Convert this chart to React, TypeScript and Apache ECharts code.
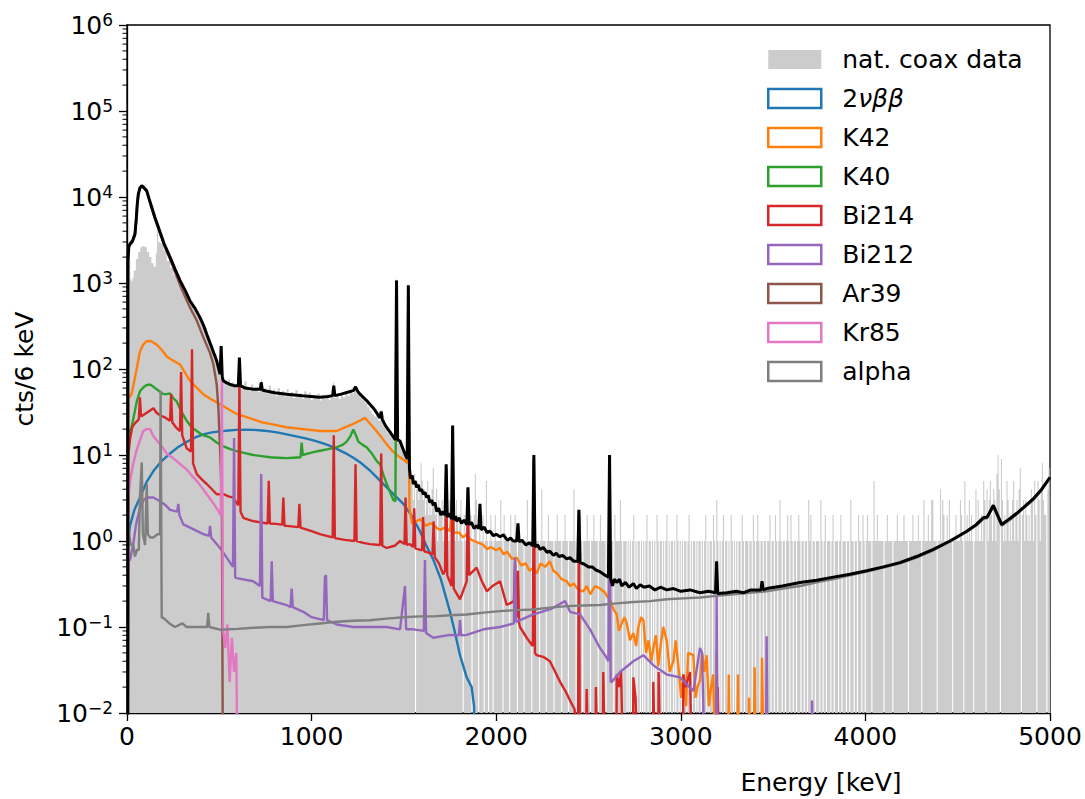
import React, { useEffect, useRef } from 'react';
import * as echarts from 'echarts';

const FONT = 'DejaVu Sans';
const ZERO = 0.001; // empty bin: below the axis minimum

const xTickValues = [0, 1000, 2000, 3000, 4000, 5000];
const yDecades = [-2, -1, 0, 1, 2, 3, 4, 5, 6];

const legendNames = ['nat. coax data', '2νββ', 'K42', 'K40', 'Bi214', 'Bi212', 'Ar39', 'Kr85', 'alpha'];
const legendColors = ['#cccccc', '#1f77b4', '#ff7f0e', '#2ca02c', '#d62728', '#9467bd', '#8c564b', '#e377c2', '#7f7f7f'];

// measured data histogram, 6 keV bins, [bin start keV, counts] below 2000 keV
const dataLow = [[0,0],[6,5600],[12,1800],[18,1100],[24,1050],[30,1150],[36,1400],[48,1900],[60,2300],[72,2600],[84,2700],[96,2600],[108,2300],[120,2000],[132,1700],[144,1550],[156,2200],[162,4100],[168,3000],[180,2900],[198,2400],[216,1800],[234,1500],[252,1250],[270,1100],[288,1000],[306,800],[324,680],[342,570],[360,480],[378,420],[396,365],[414,300],[432,240],[450,193],[468,150],[486,113],[498,90],[504,78],[510,180],[516,76],[522,72],[534,66],[546,75],[558,64],[570,70],[582,62],[594,68],[606,135],[612,64],[624,58],[636,72],[648,60],[660,55],[672,66],[684,57],[696,62],[708,54],[720,59],[726,75],[732,56],[744,60],[756,52],[768,64],[780,53],[792,58],[804,49],[816,60],[828,51],[840,56],[852,48],[864,58],[876,50],[888,54],[900,46],[912,57],[924,49],[936,52],[948,45],[960,55],[972,47],[984,53],[996,44],[1008,50],[1020,46],[1032,52],[1044,43],[1056,49],[1068,45],[1080,51],[1092,44],[1104,48],[1116,70],[1122,46],[1134,50],[1146,45],[1158,53],[1170,47],[1182,55],[1194,49],[1206,57],[1218,52],[1230,60],[1242,53],[1254,50],[1266,46],[1278,44],[1290,40],[1302,36],[1314,33],[1326,30],[1338,28],[1350,29],[1362,25],[1374,30],[1386,22],[1398,21],[1410,18],[1422,19],[1434,16],[1446,14],[1452,600],[1458,1100],[1464,14],[1476,13],[1488,11],[1500,10],[1512,9],[1518,500],[1524,950],[1530,6],[1542,5],[1548,3],[1554,6],[1560,0],[1566,4],[1572,5],[1578,3],[1584,4],[1590,8],[1596,5],[1602,3],[1608,4],[1614,2],[1620,3],[1626,5],[1632,2],[1638,3],[1644,2],[1650,4],[1656,7],[1662,3],[1668,2],[1674,4],[1680,1],[1686,3],[1692,2],[1698,2],[1704,3],[1710,1],[1716,2],[1722,3],[1728,7],[1734,2],[1740,1],[1746,3],[1752,2],[1758,18],[1764,22],[1770,2],[1776,1],[1782,3],[1788,2],[1794,1],[1800,2],[1806,3],[1812,1],[1818,0],[1824,2],[1830,1],[1836,2],[1842,4],[1848,3],[1854,1],[1860,2],[1866,0],[1872,1],[1878,2],[1884,6],[1890,3],[1896,1],[1902,0],[1908,2],[1914,1],[1920,1],[1926,2],[1932,0],[1938,1],[1944,5],[1950,1],[1956,0],[1962,1],[1968,2],[1974,1],[1980,0],[1986,1],[1992,2],[1998,1]];
// above 2000 keV: bins hold 1 count except these empty bins ...
const dataZeroBins = [2034,2070,2112,2148,2190,2232,2268,2310,2352,2388,2430,2466,2508,2550,2592,2634,2682,2706,2718,2730,2748,2760,2778,2790,2802,2820,2838,2850,2862,2880,2898,2910,2928,2940,2958,2970,2988,3000,3012,3030,3048,3060,3078,3090,3108,3120,3138,3150,3168,3186,3204,3216,3234,3252,3264,3282,3294,3306,3324,3342,3366,3384,3402,3426,3444,3462,3486,3504,3522,3546,3564,3588,3606,3624,3648,3666,3684,3708,3726,3750,3768,3786,3810,3828,3852,3870,3894,3912,3936,3954,3978,3996,4032,4098,4146,4230,4302,4386,4470,4530,4584,4650,4728,4842,4926,4980];
// ... and these bins with more than one count
const dataMultiBins = [[2022,3],[2040,2],[2076,2],[2100,2],[2166,3],[2208,2],[2244,4],[2280,2],[2328,2],[2370,2],[2418,4],[2454,2],[2490,2],[2526,2],[2562,2],[2604,3],[2616,2],[2640,2],[2670,3],[2742,2],[2814,2],[2868,2],[2922,2],[2976,2],[3042,2],[3132,2],[3174,2],[3192,3],[3228,2],[3270,2],[3330,2],[3390,2],[3414,2],[3480,2],[3510,2],[3534,3],[3576,2],[3594,2],[3636,2],[3690,3],[3702,2],[3756,3],[3780,2],[3822,2],[3864,2],[3918,3],[3960,2],[3984,2],[4008,2],[4044,5],[4062,2],[4116,2],[4170,2],[4206,2],[4254,2],[4284,2],[4314,3],[4338,2],[4356,3],[4362,3],[4404,4],[4416,3],[4422,2],[4440,2],[4452,3],[4488,2],[4512,3],[4518,2],[4536,5],[4548,2],[4560,3],[4572,2],[4596,4],[4608,3],[4626,2],[4638,5],[4644,3],[4656,4],[4668,3],[4674,5],[4680,2],[4692,4],[4698,3],[4710,6],[4716,10],[4722,4],[4734,9],[4740,3],[4752,2],[4764,5],[4770,3],[4782,2],[4794,3],[4800,5],[4812,2],[4818,3],[4830,4],[4836,7],[4848,2],[4854,3],[4866,3],[4872,2],[4884,2],[4896,4],[4902,3],[4914,5],[4920,2],[4932,5],[4938,3],[4950,4],[4956,8],[4962,3],[4968,2],[4974,2],[4986,4],[4992,7],[4998,8]];

// model components [keV, cts/6 keV]
const model2nbb = [[4,ZERO],[6,1.0],[16,1.5],[40,2.3],[70,3.2],[105,4.8],[143,6.5],[190,8.6],[233,10.4],[280,12.5],[323,14.2],[370,16],[413,17.4],[460,18.3],[504,18.8],[550,19.3],[594,19.6],[640,19.7],[684,19.6],[730,19.3],[775,18.8],[820,18.2],[865,17.4],[910,16.6],[955,15.8],[1000,15],[1046,14],[1090,13],[1136,11.8],[1180,10.6],[1226,9.3],[1270,8],[1316,6.6],[1360,5.3],[1407,4.2],[1450,3.4],[1497,2.7],[1540,2.0],[1587,1.3],[1620,0.9],[1660,0.6],[1700,0.36],[1750,0.15],[1780,0.08],[1804,0.047],[1840,0.026],[1867,0.02],[1880,0.012],[1890,ZERO]];
const modelK42 = [[4,ZERO],[6,45],[25,51],[53,102],[70,160],[88,192],[105,210],[125,212],[140,205],[161,192],[190,165],[215,140],[250,125],[287,113],[315,90],[341,73],[380,60],[413,51],[460,44],[504,39],[550,34],[594,30],[640,28],[684,26],[730,24],[775,23],[820,22],[865,21],[910,20.5],[955,20],[1000,19.5],[1045,19],[1090,19],[1136,19],[1180,21],[1226,23],[1260,25],[1289,27],[1310,24],[1334,21],[1370,17],[1407,13.3],[1440,11],[1479,9.4],[1506,8.6],[1518,8],[1524,900],[1530,2.4],[1545,1.6],[1569,1.7],[1587,1.8],[1620,1.5],[1640,1.6],[1659,1.56],[1680,1.4],[1700,1.35],[1725,1.45],[1750,1.3],[1764,2.8],[1770,1.25],[1800,1.25],[1820,1.1],[1840,1.2],[1860,1.05],[1880,1.0],[1905,0.95],[1931,0.9],[1950,0.8],[1970,0.85],[2000,0.78],[2021,0.83],[2040,0.7],[2060,0.75],[2085,0.62],[2111,0.64],[2135,0.52],[2160,0.55],[2180,0.45],[2201,0.49],[2220,0.42],[2240,0.55],[2265,0.5],[2291,0.58],[2310,0.45],[2330,0.42],[2355,0.36],[2382,0.34],[2400,0.3],[2420,0.32],[2445,0.27],[2472,0.26],[2490,0.3],[2510,0.24],[2535,0.3],[2562,0.28],[2590,0.25],[2605,0.22],[2617,0.21],[2635,0.16],[2653,0.14],[2665,0.09],[2680,0.11],[2695,0.13],[2707,0.11],[2725,0.07],[2743,0.085],[2758,0.06],[2770,0.1],[2785,0.13],[2797,0.12],[2812,0.05],[2825,0.07],[2840,0.04],[2851,0.057],[2865,0.08],[2878,0.035],[2890,0.06],[2905,0.1],[2924,0.069],[2940,0.03],[2960,0.04],[2972,0.07],[2990,0.03],[3002,0.015],[3014,0.028],[3028,0.012],[3040,0.05],[3068,0.047],[3080,0.015],[3090,0.02],[3104,0.024],[3116,0.05],[3128,0.03],[3140,0.047],[3152,0.012],[3164,0.02],[3176,0.028],[3186,ZERO],[3194,0.05],[3206,ZERO],[3254,ZERO],[3260,0.028],[3266,ZERO],[3304,ZERO],[3310,0.028],[3316,ZERO],[3364,ZERO],[3370,0.015],[3376,ZERO],[3394,ZERO],[3400,0.034],[3406,ZERO],[3434,ZERO],[3440,0.044],[3452,ZERO],[3500,ZERO]];
const modelK40 = [[4,ZERO],[6,17],[25,21],[53,42],[70,55],[88,61],[105,65],[125,66],[140,63],[161,58],[197,51],[215,51],[233,52],[250,46],[269,42],[295,32],[323,25],[350,21],[378,19],[410,17],[450,16],[486,14],[522,12.6],[560,11.7],[594,11.1],[640,10.5],[684,10],[730,9.7],[775,9.4],[820,9.3],[865,9.2],[900,9.3],[940,9.4],[946,13.9],[952,10],[973,10.3],[1010,10.8],[1045,11.2],[1090,11.7],[1136,12.3],[1170,13.2],[1190,14.3],[1210,16.5],[1226,19.8],[1240,17],[1253,14.3],[1275,13.2],[1298,12.3],[1325,10.5],[1353,8.5],[1371,7.8],[1390,5.8],[1407,4.6],[1425,3.7],[1443,3.0],[1454,2.9],[1460,1070]];
const modelBi214 = [[4,ZERO],[6,9.4],[16,15],[28,21],[40,23],[64,26],[70,47],[76,28],[107,31],[125,33],[143,35],[160,31],[179,29],[210,27],[233,25],[239,51],[245,24],[265,21],[287,19],[293,92],[299,17],[323,12],[347,11],[352,170],[358,8],[378,6.0],[405,5.2],[432,4.6],[460,4.0],[486,3.5],[522,3.5],[550,3.3],[576,3.2],[603,2.6],[609,73],[615,2.2],[630,1.86],[665,1.75],[684,1.7],[720,1.65],[762,1.6],[768,5],[774,1.6],[806,1.58],[841,1.55],[847,3.2],[853,1.5],[865,1.5],[928,1.45],[934,2.7],[940,1.43],[1000,1.3],[1045,1.2],[1114,1.1],[1120,17],[1126,1.08],[1180,1.03],[1232,1.0],[1238,7.8],[1244,1.0],[1280,0.95],[1316,0.92],[1371,0.9],[1377,10.4],[1383,0.88],[1407,0.83],[1450,0.88],[1479,1.0],[1503,0.92],[1509,3.2],[1515,0.9],[1533,0.92],[1550,0.85],[1556,2.4],[1562,0.82],[1580,0.8],[1598,0.78],[1604,1.9],[1610,0.76],[1620,0.75],[1655,0.7],[1661,1.7],[1667,0.65],[1690,0.55],[1713,0.41],[1723,0.45],[1729,7],[1735,0.4],[1758,0.3],[1764,20],[1770,0.28],[1804,0.21],[1820,0.26],[1840,0.34],[1847,4],[1853,0.4],[1894,0.49],[1920,0.35],[1949,0.26],[1980,0.3],[2021,0.34],[2057,0.18],[2096,0.2],[2102,0.58],[2108,0.15],[2113,0.13],[2118,0.45],[2124,0.11],[2129,0.1],[2165,0.075],[2198,0.06],[2204,9],[2210,0.05],[2219,0.047],[2255,0.045],[2291,0.04],[2320,0.03],[2346,0.023],[2375,0.018],[2400,0.014],[2425,0.011],[2436,ZERO],[2442,ZERO],[2448,2.2],[2454,ZERO],[2484,ZERO],[2490,0.019],[2502,ZERO],[2536,ZERO],[2540,0.02],[2552,ZERO],[2576,ZERO],[2580,0.03],[2592,ZERO],[2650,ZERO],[2653,0.028],[2665,0.02],[2677,0.03],[2690,ZERO],[2740,ZERO],[2743,0.026],[2755,0.015],[2770,ZERO],[2848,ZERO],[2851,0.023],[2863,ZERO],[2877,ZERO],[2880,0.03],[2892,ZERO],[3010,ZERO],[3014,0.028],[3026,0.02],[3050,0.03],[3062,ZERO],[3196,ZERO],[3200,0.02],[3210,ZERO]];
const modelBi212 = [[4,ZERO],[6,0.58],[16,0.6],[34,0.92],[50,1.6],[70,2.4],[90,3.0],[107,3.2],[143,3.2],[179,2.9],[210,2.6],[233,2.3],[272,2.2],[278,2.7],[284,2.0],[305,1.56],[350,1.4],[413,1.2],[444,1.15],[450,1.5],[456,1.1],[504,0.83],[540,0.64],[574,0.5],[580,15.8],[586,0.38],[594,0.37],[684,0.34],[720,0.3],[727,6.0],[733,0.22],[778,0.2],[784,0.58],[790,0.2],[865,0.18],[886,0.17],[892,0.28],[898,0.17],[955,0.15],[1000,0.13],[1066,0.12],[1072,0.38],[1078,0.4],[1084,0.12],[1136,0.107],[1226,0.1],[1407,0.1],[1479,0.094],[1506,0.3],[1512,0.094],[1551,0.094],[1608,0.09],[1614,0.6],[1620,0.085],[1659,0.075],[1750,0.081],[1798,0.08],[1804,0.12],[1810,0.08],[1840,0.081],[1931,0.094],[2021,0.1],[2096,0.11],[2102,0.64],[2108,0.115],[2201,0.14],[2291,0.16],[2373,0.2],[2400,0.15],[2454,0.14],[2508,0.094],[2562,0.057],[2590,0.047],[2608,0.04],[2614,10],[2620,0.023],[2626,0.023],[2671,0.03],[2743,0.04],[2797,0.047],[2851,0.036],[2924,0.028],[2996,0.026],[3068,0.018],[3104,0.057],[3115,0.05],[3122,0.0125],[3130,ZERO],[3190,ZERO],[3194,0.24],[3200,ZERO],[3460,ZERO],[3465,0.078],[3471,ZERO],[3706,ZERO],[3711,0.014],[3717,ZERO]];
const modelAr39 = [[4,ZERO],[5,1700],[10,2600],[16,2750],[30,3000],[43,3600],[50,5400],[55,7800],[61,10500],[70,12600],[80,13300],[90,12800],[107,11600],[120,9300],[134,7400],[150,5700],[170,4300],[200,2800],[233,1900],[260,1350],[287,950],[310,732],[341,520],[378,365],[414,232],[450,153],[468,113],[486,66],[495,35],[505,11],[514,2.7],[520,ZERO]];
const modelKr85 = [[4,ZERO],[6,3.2],[20,5.5],[33,7.8],[50,11],[70,14.8],[88,19],[105,20],[125,20],[140,17],[161,14.8],[190,12.5],[215,10.4],[240,9.5],[269,8.5],[295,7.6],[323,6.8],[350,5.8],[378,5.0],[405,4.2],[432,3.5],[460,2.9],[486,2.4],[508,2.0],[514,75],[520,0.094],[532,0.057],[544,0.107],[556,0.023],[568,0.075],[580,0.03],[592,0.05],[600,ZERO]];
const modelAlpha = [[4,ZERO],[6,1.5],[20,0.9],[34,0.9],[43,0.66],[55,0.8],[64,0.78],[70,3.2],[80,8.2],[86,1.2],[98,0.9],[107,4.6],[113,1.2],[125,1.1],[143,1.1],[165,1.2],[179,1.2],[182,56],[188,0.128],[197,0.128],[230,0.11],[260,0.1],[300,0.11],[323,0.1],[380,0.1],[434,0.1],[440,0.146],[446,0.1],[504,0.093],[600,0.095],[684,0.098],[775,0.1],[865,0.1],[955,0.105],[1045,0.11],[1136,0.115],[1226,0.118],[1316,0.12],[1407,0.125],[1497,0.13],[1587,0.133],[1659,0.133],[1750,0.137],[1840,0.14],[1931,0.147],[2021,0.153],[2111,0.157],[2201,0.16],[2291,0.168],[2382,0.175],[2472,0.178],[2562,0.18],[2652,0.188],[2743,0.195],[2834,0.2],[2924,0.21],[3014,0.215],[3104,0.22],[3194,0.23],[3284,0.24],[3375,0.25],[3465,0.26],[3555,0.28],[3646,0.3],[3736,0.33],[3826,0.36],[3916,0.4],[4007,0.44],[4097,0.49],[4187,0.55],[4277,0.64],[4368,0.78],[4458,0.98],[4549,1.28],[4600,1.5],[4638,1.8],[4660,1.85],[4693,2.5],[4738,1.5],[4780,1.75],[4820,2.05],[4865,2.5],[4910,3.0],[4955,3.9],[5000,5.4]];
const modelTotal = [[4,ZERO],[5,1800],[10,2700],[16,2840],[30,3100],[43,3700],[50,5500],[55,8000],[61,10700],[70,12800],[80,13500],[90,13000],[107,11800],[120,9500],[134,7600],[150,5900],[170,4450],[200,2900],[233,2000],[260,1450],[287,1070],[315,820],[341,622],[370,500],[395,398],[415,320],[432,254],[460,175],[486,124],[504,87],[510,185],[516,80],[522,73],[540,69],[560,66],[580,64],[603,64],[609,136],[615,64],[640,60],[684,58],[722,58],[727,70],[733,57],[760,55],[800,53],[865,51],[950,49],[1045,47],[1090,48],[1114,49],[1120,64],[1126,49],[1160,51],[1200,54],[1226,56],[1238,62],[1250,55],[1262,51],[1298,43],[1335,35],[1371,27],[1377,32],[1383,26],[1400,22],[1434,17.4],[1454,15],[1460,1070],[1466,15],[1479,14.5],[1506,10.2],[1518,9],[1524,940],[1530,7],[1536,5.3],[1545,5.8],[1551,4.6],[1560,5.0],[1569,4.2],[1578,4.5],[1587,3.8],[1596,4.0],[1605,3.5],[1614,3.7],[1623,3.2],[1632,3.4],[1641,2.8],[1650,3.0],[1659,2.6],[1668,2.8],[1678,2.2],[1689,2.4],[1700,2.0],[1711,2.2],[1723,2.0],[1729,7.8],[1735,1.9],[1746,2.1],[1758,1.8],[1764,22],[1770,1.75],[1779,1.95],[1786,1.7],[1800,1.85],[1812,1.6],[1826,1.75],[1841,1.55],[1847,4.2],[1853,1.55],[1866,1.65],[1880,1.4],[1893,1.5],[1906,1.4],[1912,2.7],[1918,1.35],[1935,1.45],[1950,1.25],[1966,1.3],[1985,1.15],[2000,1.2],[2021,1.12],[2040,1.18],[2060,1.02],[2078,1.08],[2093,1.0],[2111,1.0],[2118,1.6],[2124,0.98],[2140,1.02],[2160,0.9],[2180,0.95],[2198,0.88],[2204,10],[2210,0.86],[2225,0.9],[2237,0.8],[2255,0.84],[2275,0.74],[2291,0.76],[2310,0.68],[2325,0.72],[2340,0.66],[2360,0.68],[2382,0.62],[2400,0.64],[2420,0.58],[2442,0.58],[2448,2.3],[2454,0.56],[2475,0.54],[2500,0.5],[2520,0.5],[2540,0.46],[2562,0.44],[2576,0.42],[2590,0.4],[2608,0.38],[2614,10],[2620,0.36],[2630,0.3],[2640,0.36],[2653,0.33],[2668,0.36],[2680,0.3],[2700,0.33],[2720,0.29],[2743,0.32],[2760,0.28],[2780,0.31],[2800,0.29],[2830,0.3],[2860,0.27],[2890,0.29],[2924,0.27],[2960,0.28],[3000,0.26],[3050,0.27],[3104,0.25],[3150,0.26],[3188,0.25],[3194,0.58],[3200,0.245],[3250,0.25],[3300,0.26],[3339,0.25],[3380,0.27],[3434,0.27],[3440,0.34],[3446,0.27],[3465,0.28],[3550,0.3],[3646,0.33],[3736,0.35],[3826,0.38],[3916,0.41],[4007,0.45],[4097,0.5],[4187,0.56],[4277,0.66],[4368,0.8],[4458,1.0],[4549,1.3],[4600,1.55],[4638,1.86],[4660,1.9],[4693,2.6],[4738,1.56],[4780,1.8],[4820,2.1],[4865,2.55],[4910,3.1],[4955,4.0],[5000,5.5]];

function buildDataHistogram() {
  const pts: number[][] = dataLow.map((p) => [p[0], p[1] === 0 ? ZERO : p[1]]);
  const zeros = new Set(dataZeroBins.map((e) => Math.round(e / 6) * 6));
  const multi = new Map(dataMultiBins.map(([e, c]) => [Math.round(e / 6) * 6, c]));
  let last: number | null = null;
  for (let e = 2004; e < 5000; e += 6) {
    const v = zeros.has(e) ? ZERO : (multi.get(e) ?? 1);
    if (v !== last) { pts.push([e, v]); last = v; }
  }
  pts.push([5000, last as number]);
  return pts;
}

function minorTickValues() {
  const out: number[][] = [];
  for (let d = -2; d < 6; d++) for (let k = 2; k <= 9; k++) out.push([0, k * Math.pow(10, d)]);
  return out;
}

export default function App() {
  const ref = useRef<HTMLDivElement>(null);
  useEffect(() => {
    if (!ref.current) return;
    const chart = echarts.init(ref.current, undefined, { renderer: 'svg' });
    const models = [model2nbb, modelK42, modelK40, modelBi214, modelBi212, modelAr39, modelKr85, modelAlpha];
    const lineSeries = models.map((d, i) => ({
      type: 'line', name: legendNames[i + 1], data: d, symbol: 'none', showSymbol: false,
      lineStyle: { color: legendColors[i + 1], width: 2.4 }, itemStyle: { color: legendColors[i + 1] },
      clip: true, z: 3, silent: true,
    }));
    const option: any = {
      animation: false,
      backgroundColor: '#ffffff',
      textStyle: { fontFamily: FONT },
      grid: { left: 127, right: 35, top: 25, bottom: 86, show: true, borderColor: '#000', borderWidth: 1.3, backgroundColor: 'transparent' },
      xAxis: {
        type: 'value', min: xTickValues[0], max: xTickValues[xTickValues.length - 1], interval: 1000,
        axisLine: { show: true, onZero: false, lineStyle: { color: '#000', width: 1.3 } },
        axisTick: { show: true, inside: false, length: 8, lineStyle: { color: '#000', width: 1.3 } },
        axisLabel: { color: '#000', fontSize: 25, fontFamily: FONT, margin: 11, formatter: (v: number) => String(v) },
        splitLine: { show: false },
      },
      yAxis: {
        type: 'log', logBase: 10, min: Math.pow(10, yDecades[0]), max: Math.pow(10, yDecades[yDecades.length - 1]), splitNumber: 8,
        axisLine: { show: true, onZero: false, lineStyle: { color: '#000', width: 1.3 } },
        axisTick: { show: true, inside: false, length: 8, lineStyle: { color: '#000', width: 1.3 } },
        axisLabel: {
          margin: 14,
          formatter: (v: number) => {
            const e = Math.round(Math.log10(v));
            return '{b|10}{s|' + (e < 0 ? '\u2212' + -e : String(e)) + '}';
          },
          rich: {
            b: { fontSize: 25, lineHeight: 28, fontFamily: FONT, color: '#000' },
            s: { fontSize: 17, lineHeight: 14, verticalAlign: 'top', fontFamily: FONT, color: '#000' },
          },
        },
        splitLine: { show: false },
      },
      legend: {
        orient: 'vertical', left: 762, top: 42, itemWidth: 53, itemHeight: 19, itemGap: 14,
        selectedMode: false,
        textStyle: { fontSize: 25, fontFamily: FONT, color: '#000', padding: [0, 0, 0, 16], rich: { i: { fontSize: 25, fontStyle: 'italic', fontFamily: FONT, color: '#000' } } },
        formatter: (name: string) => (name === '2νββ' ? '2{i|νββ}' : name),
        data: legendNames.map((n, i) => i === 0
          ? { name: n, icon: 'rect', itemStyle: { color: legendColors[0], borderWidth: 0 } }
          : { name: n, icon: 'rect', itemStyle: { color: '#ffffff', borderColor: legendColors[i], borderWidth: 2.5 } }),
      },
      graphic: [
        { type: 'text', x: 24, y: 369, rotation: Math.PI / 2, style: { text: 'cts/6 keV', font: `25px "${FONT}"`, fill: '#000', textAlign: 'center', textVerticalAlign: 'middle' } },
        { type: 'text', x: 821, y: 782, style: { text: 'Energy [keV]', font: `25px "${FONT}"`, fill: '#000', textAlign: 'center', textVerticalAlign: 'middle' } },
      ],
      series: [
        {
          type: 'line', name: legendNames[0], data: buildDataHistogram(), step: 'end', symbol: 'none', showSymbol: false,
          lineStyle: { width: 0, opacity: 0 }, itemStyle: { color: legendColors[0] },
          areaStyle: { color: legendColors[0], opacity: 1, origin: 'start' }, clip: true, z: 2, silent: true,
        },
        ...lineSeries,
        {
          type: 'line', name: 'total', data: modelTotal, symbol: 'none', showSymbol: false,
          lineStyle: { color: '#000', width: 3 }, itemStyle: { color: '#000' }, clip: true, z: 4, silent: true,
        },
        {
          type: 'custom', name: 'minorTicks', data: minorTickValues(), clip: false, silent: true, z: 5,
          renderItem: (params: any, api: any) => {
            const p = api.coord([0, api.value(1)]);
            return { type: 'line', shape: { x1: p[0] - 4.5, y1: p[1], x2: p[0], y2: p[1] }, style: { stroke: '#000', lineWidth: 1 } };
          },
        },
      ],
    };
    chart.setOption(option);
    return () => chart.dispose();
  }, []);
  return <div ref={ref} style={{ position: 'fixed', left: 0, top: 0, width: 1085, height: 799, background: '#fff' }} />;
}
